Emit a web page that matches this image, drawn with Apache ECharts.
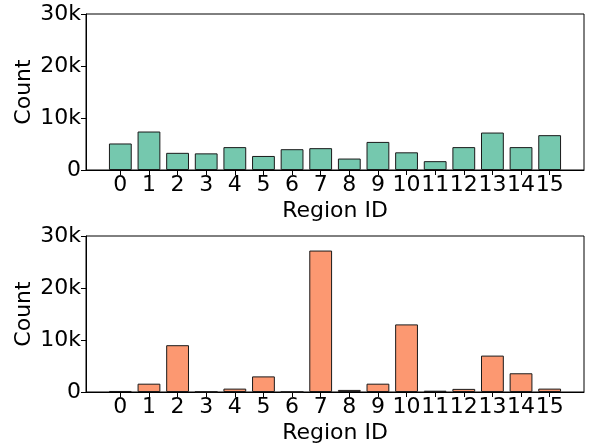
<!DOCTYPE html>
<html>
<head>
<meta charset="utf-8">
<script src="https://cdn.jsdelivr.net/npm/echarts@6/dist/echarts.min.js"></script>
<style>
  html, body { margin: 0; padding: 0; background: #fff; }
  #chart { width: 590px; height: 445px; }
</style>
</head>
<body>
<div id="chart"></div>
<script>
// region ids on the x axis
const regions = [0, 1, 2, 3, 4, 5, 6, 7, 8, 9, 10, 11, 12, 13, 14, 15];
// counts per region
const topCounts = [5100, 7400, 3300, 3200, 4400, 2700, 4000, 4200, 2200, 5400, 3400, 1700, 4400, 7200, 4400, 6700];
const bottomCounts = [200, 1600, 9000, 50, 650, 3000, 30, 27200, 400, 1600, 13000, 250, 600, 7000, 3600, 650];
const yTicks = [0, 10000, 20000, 30000];

const font = 'DejaVu Sans';
const chart = echarts.init(document.getElementById('chart'), null, { renderer: 'canvas' });

function xAxisOf(gridIndex) {
    return {
        type: 'value',
        gridIndex: gridIndex,
        min: -1.2,
        max: 16.2,
        name: 'Region ID',
        nameLocation: 'middle',
        nameGap: 30,
        nameMoveOverlap: false,
        nameTextStyle: { color: '#000', fontFamily: font, fontSize: 22 },
        axisLine: { show: true, onZero: false, lineStyle: { color: '#000', width: 1 } },
        axisTick: { show: true, length: 5, lineStyle: { color: '#000' }, customValues: regions },
        axisLabel: { color: '#000', fontFamily: font, fontSize: 22, margin: 4, customValues: regions },
        splitLine: { show: false }
    };
}
function yAxisOf(gridIndex) {
    return {
        type: 'value',
        gridIndex: gridIndex,
        min: 0,
        max: 30000,
        interval: 10000,
        name: 'Count',
        nameLocation: 'middle',
        nameGap: 51,
        nameMoveOverlap: false,
        nameTextStyle: { color: '#000', fontFamily: font, fontSize: 22 },
        axisLine: { show: true, onZero: false, lineStyle: { color: '#000', width: 1 } },
        axisTick: { show: true, length: 5, lineStyle: { color: '#000' }, customValues: yTicks },
        axisLabel: {
            color: '#000', fontFamily: font, fontSize: 22, margin: 5, customValues: yTicks,
            formatter: v => v === 0 ? '0' : (v / 1000) + 'k'
        },
        splitLine: { show: false }
    };
}
function barsOf(idx, values, color) {
    return {
        type: 'bar',
        xAxisIndex: idx,
        yAxisIndex: idx,
        data: regions.map((r, i) => [r, values[i]]),
        barWidth: 22.8,
        silent: true,
        itemStyle: { color: color, borderColor: '#1a1a1a', borderWidth: 1 }
    };
}

chart.setOption({
    animation: false,
    grid: [
        { left: 86, right: 6, top: 14, height: 156, show: true, borderColor: '#000', borderWidth: 1 },
        { left: 86, right: 6, top: 236, height: 156, show: true, borderColor: '#000', borderWidth: 1 }
    ],
    xAxis: [xAxisOf(0), xAxisOf(1)],
    yAxis: [yAxisOf(0), yAxisOf(1)],
    series: [
        barsOf(0, topCounts, 'rgba(102,194,165,0.9)'),
        barsOf(1, bottomCounts, 'rgba(252,141,98,0.9)')
    ]
});
</script>
</body>
</html>
